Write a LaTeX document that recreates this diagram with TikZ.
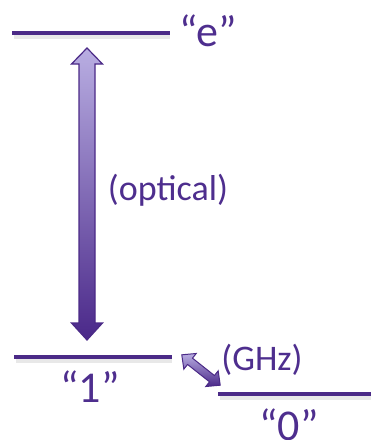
\documentclass[tikz,border=0pt]{standalone}
\usepackage{fontspec}
\setmainfont{Carlito}
\begin{document}
\begin{tikzpicture}[x=1pt,y=-1pt,
  level/.style={line width=4pt, draw=lvl},
  shadowline/.style={line width=6pt, draw=black!15, opacity=0.6},
  bigtxt/.style={text=txt, font=\fontsize{44}{44}\selectfont, inner sep=0pt, anchor=base},
  smalltxt/.style={text=txt, font=\fontsize{36}{36}\selectfont, inner sep=0pt, anchor=base},
  arrowshape/.style={draw=lvl, line width=1.2pt, line join=miter, top color=atop, bottom color=abot, shading angle=0}
]
\definecolor{lvl}{HTML}{4B2A87}
\definecolor{txt}{HTML}{4E2E8E}
\definecolor{atop}{HTML}{B9AEE2}
\definecolor{abot}{HTML}{4A2889}
\useasboundingbox (0,0) rectangle (371,440);
% shadows
\draw[shadowline] (14,36) -- (170,36);
\draw[shadowline] (16,360) -- (172,360);
\draw[shadowline] (220,397) -- (371,397);
% levels
\coordinate (e1) at (12,33);
\coordinate (e2) at (170,33);
\coordinate (o1) at (14,357);
\coordinate (o2) at (172,357);
\coordinate (z1) at (218,394);
\coordinate (z2) at (371,394);
\draw[level] (e1) -- (e2);
\draw[level] (o1) -- (o2);
\draw[level] (z1) -- (z2);
% labels
\node[bigtxt] (le) at (208,46) {“e”};
\node[bigtxt] (l1) at (90,402) {“1”};
\node[bigtxt] (l0) at (289,440) {“0”};
\node[smalltxt] (lopt) at (168,200) {(optical)};
\node[smalltxt] (lghz) at (262,370) {(GHz)};
% big double arrow
\path[arrowshape] (87,48) -- (102.5,64) -- (95,64) -- (95,323) -- (102.5,323) -- (87,340)
  -- (71.5,323) -- (79,323) -- (79,64) -- (71.5,64) -- cycle;
% small double arrow (diagonal)
\begin{scope}[shift={(201,370)}, rotate=-38.3]
\path[arrowshape, line width=1pt] (-24.5,0) -- (-14,-10) -- (-14,-4) -- (14,-4) -- (14,-10) -- (24.5,0)
  -- (14,10) -- (14,4) -- (-14,4) -- (-14,10) -- cycle;
\end{scope}
\end{tikzpicture}
\end{document}
